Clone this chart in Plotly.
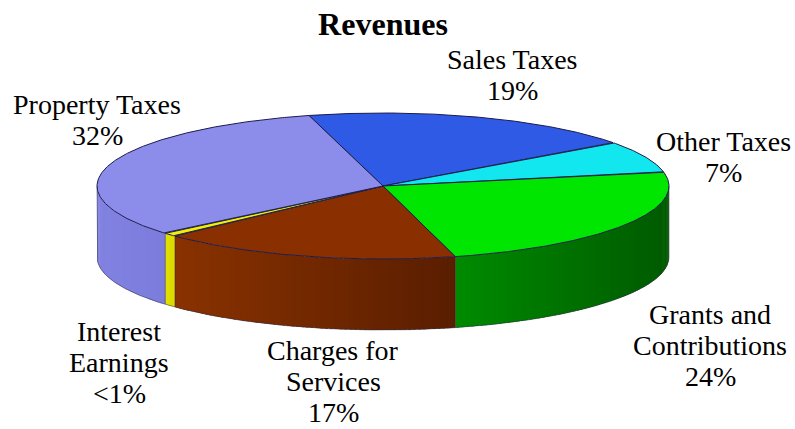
import math
import numpy as np
import plotly.graph_objects as go

# Revenue shares (percent), listed clockwise starting from the top of the pie
categories = ["Sales Taxes", "Other Taxes", "Grants and<br>Contributions",
              "Charges for<br>Services", "Interest<br>Earnings", "Property Taxes"]
values = [19, 7, 24, 17, 0.8, 32]
pct_labels = ["19%", "7%", "24%", "17%", "<1%", "32%"]

# Styling per slice (same order as categories)
top_colors = ["#2e5ae6", "#12e6ee", "#00e600", "#8a3000", "#f0f000", "#8c8cea"]
side_left = ["#2248c0", "#0cc0c8", "#008c00", "#8a3200", "#e8e800", "#8282e2"]
side_right = ["#1a3890", "#089098", "#005a00", "#5a1e00", "#d8d800", "#7c7cdc"]

# Label anchor (x, y of first line centre), in pixel space
label_anchor = {
    "Sales Taxes": (512, 59),
    "Other Taxes": (723, 141),
    "Grants and<br>Contributions": (710, 314),
    "Charges for<br>Services": (333, 350),
    "Interest<br>Earnings": (119, 331),
    "Property Taxes": (97, 104),
}
LINE_STEP = 31

# Pie geometry (pixel space)
W, H = 795, 429
CX, CY = 383, 186
RX, RY = 286, 73
DEPTH = 71
START = 105.0  # degrees, boundary where the first slice begins

OUTLINE = "#1c1c4c"
SERIF = "Liberation Serif"


def pt(theta_deg, dy=0.0):
    t = math.radians(theta_deg)
    return CX + RX * math.cos(t), CY - RY * math.sin(t) + dy


def arc(a, b, step=0.5, dy=0.0):
    n = max(2, int(math.ceil(abs(a - b) / step)) + 1)
    ts = np.linspace(a, b, n)
    xs, ys = zip(*(pt(t, dy) for t in ts))
    return list(xs), list(ys)


def mix(c1, c2, f):
    a = [int(c1[i:i + 2], 16) for i in (1, 3, 5)]
    b = [int(c2[i:i + 2], 16) for i in (1, 3, 5)]
    return "rgb(%d,%d,%d)" % tuple(round(a[k] + (b[k] - a[k]) * f) for k in range(3))


total = float(sum(values))
bounds = []
ang = START
for v in values:
    sweep = 360.0 * v / total
    bounds.append((ang, ang - sweep))
    ang -= sweep

fig = go.Figure()

# Side walls: only the front half (angles between -180 and 0) is visible.
# Each wall gets a left-to-right shading made of thin overlapping bands.
edge_lines = []
for i, (s, e) in enumerate(bounds):
    segs = []
    for k in (-360, 0, 360):
        hi = min(s + k, 0.0)
        lo = max(e + k, -180.0)
        if hi > lo:
            segs.append((hi, lo))
    for hi, lo in segs:
        x_left, _ = pt(lo)
        x_right, _ = pt(hi)
        n = max(1, int(math.ceil((hi - lo) / 1.0)))
        edges = np.linspace(lo, hi, n + 1)
        for j in range(n):
            a, b = edges[j], edges[j + 1]
            a_ext = max(lo, a - 0.7)
            xm, _ = pt((a + b) / 2)
            f = (xm - x_left) / max(1e-6, (x_right - x_left))
            col = mix(side_left[i], side_right[i], f)
            tx, ty = arc(a_ext, b, step=0.5)
            bx, by = arc(b, a_ext, step=0.5, dy=DEPTH)
            fig.add_trace(go.Scatter(
                x=tx + bx, y=ty + by, mode="lines", fill="toself",
                fillcolor=col, line=dict(width=0),
                hoverinfo="skip", showlegend=False))
        if -180.0 < lo:
            edge_lines.append(lo)

# Thin seams where neighbouring walls meet
for t in edge_lines:
    x0, y0 = pt(t)
    fig.add_trace(go.Scatter(
        x=[x0, x0], y=[y0, y0 + DEPTH], mode="lines",
        line=dict(color="rgba(40,25,30,0.45)", width=1),
        hoverinfo="skip", showlegend=False))

# Outline of the visible side: left/right walls and bottom rim
lx, ly = pt(-180)
rx_, ry_ = pt(0)
bx, by = arc(-180, 0, step=0.5, dy=DEPTH)
fig.add_trace(go.Scatter(
    x=[lx] + bx + [rx_], y=[ly] + by + [ry_], mode="lines",
    line=dict(color="rgba(40,40,70,0.5)", width=1),
    hoverinfo="skip", showlegend=False))

# Top face slices
for i, (s, e) in enumerate(bounds):
    ax, ay = arc(s, e, step=0.4)
    fig.add_trace(go.Scatter(
        x=[CX] + ax + [CX], y=[CY] + ay + [CY], mode="lines", fill="toself",
        fillcolor=top_colors[i], line=dict(color=OUTLINE, width=1),
        name=categories[i].replace("<br>", " "),
        hoverinfo="name", showlegend=False))

# Slice labels
for i, cat in enumerate(categories):
    x0, y0 = label_anchor[cat]
    lines = cat.split("<br>") + [pct_labels[i]]
    for k, line in enumerate(lines):
        fig.add_annotation(
            x=x0, y=y0 + k * LINE_STEP, xref="x", yref="y", text=line,
            showarrow=False, xanchor="center", yanchor="middle",
            font=dict(family=SERIF, size=28, color="black"))

fig.update_layout(
    width=W, height=H,
    margin=dict(l=0, r=0, t=0, b=0),
    paper_bgcolor="white", plot_bgcolor="white",
    showlegend=False,
    title=dict(text="<b>Revenues</b>", x=CX / W, xanchor="center",
               y=1 - 24 / H, yanchor="middle", yref="container",
               font=dict(family=SERIF, size=32, color="black")),
    xaxis=dict(range=[0, W], visible=False, fixedrange=True),
    yaxis=dict(range=[H, 0], visible=False, fixedrange=True),
)

fig.write_html("out.html")
